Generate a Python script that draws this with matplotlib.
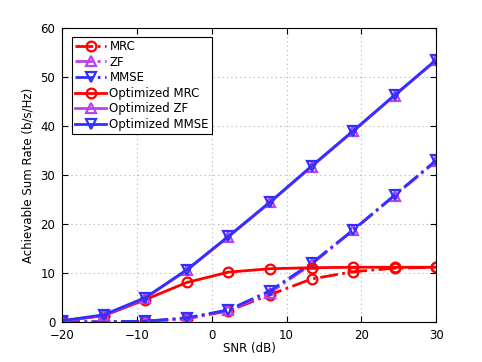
import numpy as np
import matplotlib.pyplot as plt

## SNR points (dB)
snr = [-20, -14.44, -8.89, -3.33, 2.22, 7.78, 13.33, 18.89, 24.44, 30]

## Achievable sum rates
mrc = [0.1, 0.0, 0.2, 0.7, 2.3, 5.6, 8.8, 10.3, 11.0, 11.2]
zf = [0.0, 0.0, 0.1, 0.7, 2.4, 6.0, 11.8, 18.7, 25.8, 32.8]
mmse = [0.1, 0.1, 0.2, 0.9, 2.5, 6.4, 12.0, 18.8, 25.9, 33.0]
opt_mrc = [0.3, 1.3, 4.6, 8.1, 10.2, 10.9, 11.1, 11.2, 11.2, 11.2]
opt_zf = [0.2, 1.4, 4.9, 10.6, 17.4, 24.4, 31.7, 38.9, 46.2, 53.4]
opt_mmse = [0.3, 1.5, 5.0, 10.7, 17.5, 24.5, 31.8, 39.0, 46.3, 53.5]

red = '#ff0000'
purple = '#bf40f0'
blue = '#3030ff'

plt.rcParams['font.family'] = 'DejaVu Sans'
fig = plt.figure(figsize=(4.82, 3.62), dpi=100)
ax = fig.add_axes([0.129, 0.110, 0.776, 0.813])

mk = dict(markersize=7, markerfacecolor='none', markeredgewidth=1.6)
ax.plot(snr, mrc, '-.', color=red, lw=2, marker='o', label='MRC', **mk)
ax.plot(snr, zf, '-.', color=purple, lw=2, marker='^', label='ZF', **mk)
ax.plot(snr, mmse, '-.', color=blue, lw=2, marker='v', label='MMSE', **mk)
ax.plot(snr, opt_mrc, '-', color=red, lw=2, marker='o', label='Optimized MRC', **mk)
ax.plot(snr, opt_zf, '-', color=purple, lw=2, marker='^', label='Optimized ZF', **mk)
ax.plot(snr, opt_mmse, '-', color=blue, lw=2, marker='v', label='Optimized MMSE', **mk)

ax.set_xlim(-20, 30)
ax.set_ylim(0, 60)
ax.set_xticks([-20, -10, 0, 10, 20, 30])
ax.set_yticks([0, 10, 20, 30, 40, 50, 60])
ax.grid(True, linestyle=(0, (1, 3)), color='#b0b0b0', lw=0.8)
ax.tick_params(direction='in', labelsize=8.5, top=True, right=True, length=4)
ax.tick_params(axis='y', pad=5)
ax.tick_params(axis='x', pad=5)
ax.set_xlabel('SNR (dB)', fontsize=8.5, labelpad=0)
ax.set_ylabel('Achievable Sum Rate (b/s/Hz)', fontsize=8.5, labelpad=4)

leg = ax.legend(loc='upper left', fontsize=8.5, fancybox=False, framealpha=1,
                edgecolor='black', handlelength=2.6, borderpad=0.25,
                labelspacing=0.22, handletextpad=0.3, borderaxespad=0,
                bbox_to_anchor=(0.027, 0.969))
leg.get_frame().set_linewidth(0.8)

fig.savefig('out.png', dpi=100)
